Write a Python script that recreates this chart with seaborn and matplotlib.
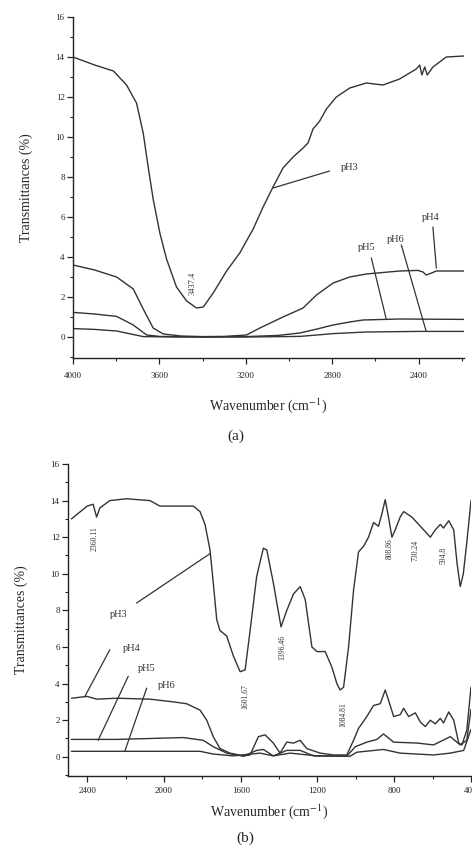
import numpy as np
import pandas as pd
import matplotlib
matplotlib.use("Agg")
import matplotlib.pyplot as plt
from matplotlib.ticker import MultipleLocator
import seaborn as sns

# ---------------- Panel (a) data ----------------
a_ph3_wn = [4000, 3900, 3813, 3752, 3706, 3675, 3652, 3629, 3598, 3567, 3521, 3474, 3428, 3397,
            3351, 3289, 3228, 3166, 3120, 3074, 3028, 2981, 2935, 2912, 2889, 2858, 2827, 2781,
            2719, 2642, 2565, 2488, 2411, 2395, 2385, 2372, 2360, 2334, 2272, 2190]
a_ph3_t = [14.0, 13.6, 13.3, 12.6, 11.7, 10.2, 8.5, 6.9, 5.2, 3.9, 2.5, 1.8, 1.45, 1.5,
           2.2, 3.3, 4.2, 5.4, 6.5, 7.5, 8.45, 9.0, 9.45, 9.7, 10.4, 10.8, 11.4, 12.0,
           12.45, 12.7, 12.6, 12.9, 13.4, 13.6, 13.1, 13.5, 13.1, 13.5, 14.0, 14.05]

a_ph4_wn = [4000, 3900, 3798, 3721, 3675, 3629, 3582, 3500, 3400, 3300, 3197, 3135, 3028,
            2935, 2873, 2796, 2719, 2642, 2488, 2404, 2380, 2365, 2340, 2318, 2190]
a_ph4_t = [3.6, 3.35, 3.0, 2.4, 1.4, 0.45, 0.15, 0.05, 0.02, 0.03, 0.1, 0.45, 1.0,
           1.45, 2.1, 2.7, 3.0, 3.15, 3.3, 3.33, 3.25, 3.1, 3.2, 3.3, 3.3]

a_ph5_wn = [4000, 3900, 3798, 3721, 3659, 3600, 3400, 3200, 3050, 2950, 2870, 2796, 2719,
            2658, 2488, 2190]
a_ph5_t = [1.23, 1.15, 1.03, 0.6, 0.1, 0.03, 0.0, 0.02, 0.08, 0.2, 0.4, 0.6, 0.75,
           0.85, 0.9, 0.88]

a_ph6_wn = [4000, 3900, 3798, 3675, 3500, 3200, 2950, 2870, 2796, 2642, 2400, 2190]
a_ph6_t = [0.42, 0.38, 0.3, 0.02, 0.0, 0.0, 0.03, 0.1, 0.17, 0.25, 0.28, 0.28]

# ---------------- Panel (b) data ----------------
b_ph3_wn = [2482, 2400, 2369, 2351, 2334, 2282, 2195, 2073, 2021, 1951, 1847, 1812, 1786,
            1760, 1743, 1725, 1708, 1673, 1638, 1603, 1577, 1551, 1517, 1482, 1464, 1430,
            1390, 1360, 1325, 1290, 1264, 1229, 1203, 1160, 1125, 1099, 1082, 1064, 1038,
            1012, 986, 960, 934, 908, 882, 864, 847, 830, 812, 795, 769, 751, 708, 664, 612,
            586, 560, 543, 516, 490, 473, 456, 440, 422, 400]
b_ph3_t = [13.0, 13.7, 13.8, 13.1, 13.6, 14.0, 14.1, 14.0, 13.7, 13.7, 13.7, 13.4, 12.7,
           11.3, 9.5, 7.5, 6.9, 6.6, 5.5, 4.65, 4.75, 6.9, 9.85, 11.4, 11.3, 9.5,
           7.1, 8.0, 8.9, 9.3, 8.6, 6.0, 5.75, 5.75, 4.9, 4.0, 3.65, 3.8, 6.0,
           9.1, 11.2, 11.5, 12.0, 12.8, 12.6, 13.3, 14.05, 13.1, 12.0, 12.4, 13.1, 13.4, 13.1,
           12.6, 12.0, 12.4, 12.7, 12.5, 12.9, 12.4, 10.6, 9.3, 10.0, 11.7, 14.0]

b_ph4_wn = [2482, 2400, 2351, 2247, 2073, 1951, 1882, 1812, 1777, 1743, 1708, 1656, 1586,
            1551, 1508, 1473, 1430, 1395, 1360, 1325, 1290, 1256, 1186, 1116, 1047, 1012,
            986, 943, 908, 873, 847, 830, 803, 769, 751, 725, 690, 664, 638, 612, 586, 560,
            543, 516, 490, 464, 447, 422, 400]
b_ph4_t = [3.2, 3.3, 3.15, 3.2, 3.15, 3.0, 2.9, 2.55, 2.0, 1.1, 0.45, 0.2, 0.05,
           0.1, 1.1, 1.2, 0.75, 0.2, 0.8, 0.75, 0.9, 0.45, 0.2, 0.1, 0.1, 0.9,
           1.55, 2.2, 2.8, 2.9, 3.65, 3.1, 2.2, 2.3, 2.65, 2.2, 2.4, 1.9, 1.65, 2.0, 1.8, 2.1,
           1.85, 2.45, 2.0, 0.75, 0.65, 1.45, 3.8]

b_ph5_wn = [2482, 2247, 1899, 1795, 1743, 1673, 1586, 1517, 1482, 1430, 1360, 1290, 1221,
            1047, 1003, 943, 890, 856, 803, 681, 595, 508, 456, 422, 400]
b_ph5_t = [0.95, 0.95, 1.05, 0.9, 0.55, 0.2, 0.03, 0.35, 0.4, 0.05, 0.35, 0.35, 0.05,
           0.03, 0.55, 0.8, 0.95, 1.25, 0.8, 0.75, 0.65, 1.1, 0.65, 0.9, 2.6]

b_ph6_wn = [2482, 1812, 1743, 1638, 1499, 1430, 1343, 1203, 1030, 995, 856, 769, 595, 508,
            438, 400]
b_ph6_t = [0.3, 0.3, 0.15, 0.05, 0.2, 0.05, 0.2, 0.05, 0.03, 0.25, 0.4, 0.2, 0.1, 0.2,
           0.35, 1.5]

# peak labels
a_peak_labels = ["3437.4"]
a_peak_pos = [(3446, 2.7)]
b_peak_labels = ["2360.11", "1601.67", "1396.46", "1084.81", "808.86", "730.24", "594.8"]
b_peak_pos = [(2360, 11.9), (1574, 3.3), (1386, 6.0), (1064, 2.3), (824, 11.4), (690, 11.3), (543, 11.0)]

# series labels with leader lines: (label, text_xy, line_start, line_end)
a_series_labels = [
    ("pH3", (2719, 8.45), (2812, 8.3), (3074, 7.45)),
    ("pH5", (2642, 4.45), (2619, 3.95), (2550, 0.9)),
    ("pH6", (2505, 4.85), (2480, 4.6), (2365, 0.28)),
    ("pH4", (2345, 5.95), (2334, 5.5), (2318, 3.45)),
]
b_series_labels = [
    ("pH3", (2238, 7.75), (2143, 8.4), (1760, 11.1)),
    ("pH4", (2169, 5.9), (2282, 5.85), (2412, 3.3)),
    ("pH5", (2090, 4.85), (2186, 4.4), (2343, 0.9)),
    ("pH6", (1986, 3.9), (2090, 3.75), (2203, 0.33)),
]

sns.set_style("ticks")
plt.rcParams['font.family'] = ['Liberation Serif', 'DejaVu Serif']
plt.rcParams['mathtext.fontset'] = 'stix'

LC = "#333333"
fig = plt.figure(figsize=(4.72, 8.58), dpi=100)

def style_axes(ax, xlim, xmajor, xpad, xlabelpad):
    ax.set_xlim(*xlim)
    ax.set_ylim(-1.05, 16)
    ax.xaxis.set_major_locator(MultipleLocator(xmajor))
    ax.xaxis.set_minor_locator(MultipleLocator(xmajor / 2))
    ax.yaxis.set_major_locator(MultipleLocator(2))
    ax.yaxis.set_minor_locator(MultipleLocator(1))
    for s in ["top", "right"]:
        ax.spines[s].set_visible(False)
    for s in ["left", "bottom"]:
        ax.spines[s].set_color("#222222")
        ax.spines[s].set_linewidth(1.0)
    ax.tick_params(axis="both", which="major", labelsize=6.5, length=4, width=0.9,
                   direction="out", colors="#222222", pad=2)
    ax.tick_params(axis="x", which="major", pad=xpad)
    ax.tick_params(axis="both", which="minor", length=2.5, width=0.8, direction="out",
                   colors="#222222")
    ax.set_xlabel("Wavenumber (cm$^{-1}$)", fontsize=10, labelpad=xlabelpad)
    ax.set_ylabel("Transmittances (%)", fontsize=10, labelpad=16)

def draw(ax, series):
    for wn, t in series:
        df = pd.DataFrame({"wn": wn, "t": t})
        sns.lineplot(data=df, x="wn", y="t", ax=ax, color=LC, linewidth=1.0,
                     sort=False, estimator=None)

# Panel (a)
axa = fig.add_axes([73/472, 1 - 358/858, (464 - 73)/472, (358 - 17)/858])
draw(axa, [(a_ph3_wn, a_ph3_t), (a_ph4_wn, a_ph4_t), (a_ph5_wn, a_ph5_t), (a_ph6_wn, a_ph6_t)])
style_axes(axa, (4000, 2190), 400, 6, 12)
for lab, (x, y) in zip(a_peak_labels, a_peak_pos):
    axa.text(x, y, lab, rotation=90, fontsize=6, ha="center", va="center", color=LC)
for lab, txy, p0, p1 in a_series_labels:
    axa.text(txy[0], txy[1], lab, fontsize=7.5, ha="center", va="center", color=LC)
    axa.plot([p0[0], p1[0]], [p0[1], p1[1]], color=LC, linewidth=0.9)

# Panel (b)
axb = fig.add_axes([68/472, 1 - 776/858, (471 - 68)/472, (776 - 464)/858])
draw(axb, [(b_ph3_wn, b_ph3_t), (b_ph4_wn, b_ph4_t), (b_ph5_wn, b_ph5_t), (b_ph6_wn, b_ph6_t)])
style_axes(axb, (2500, 400), 400, 4, 5)
for lab, (x, y) in zip(b_peak_labels, b_peak_pos):
    axb.text(x, y, lab, rotation=90, fontsize=5.5, ha="center", va="center", color=LC)
for lab, txy, p0, p1 in b_series_labels:
    axb.text(txy[0], txy[1], lab, fontsize=7.5, ha="center", va="center", color=LC)
    axb.plot([p0[0], p1[0]], [p0[1], p1[1]], color=LC, linewidth=0.9)

fig.text(236/472, 1 - 436/858, "(a)", fontsize=11, ha="center", va="center")
fig.text(245/472, 1 - 838/858, "(b)", fontsize=11, ha="center", va="center")

fig.savefig("out.png", dpi=100, facecolor="white")
